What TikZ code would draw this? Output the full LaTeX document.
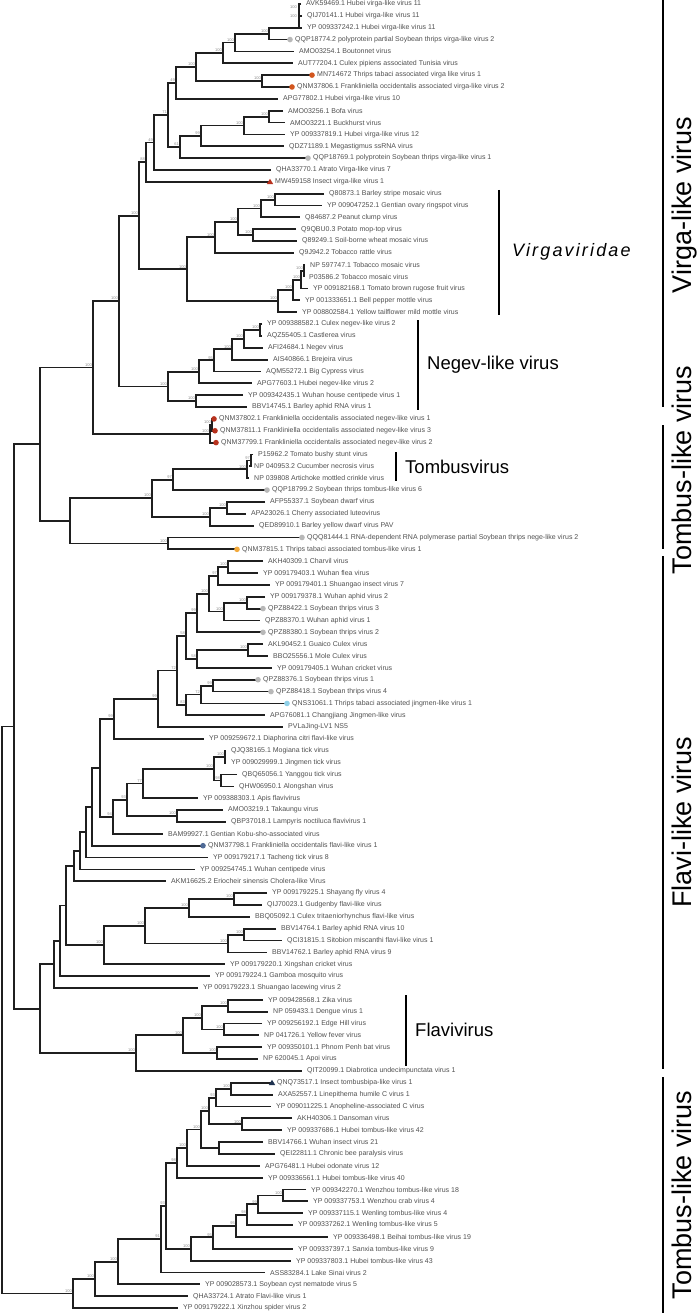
\documentclass[tikz,border=0pt]{standalone}
\usepackage{fontspec}
\setmainfont{Liberation Sans}
\usetikzlibrary{calc}
\definecolor{txt}{HTML}{505050}
\definecolor{bsc}{HTML}{8C8C8C}
\definecolor{dgray}{HTML}{B8B8B8}
\definecolor{dorange}{HTML}{D2561E}
\definecolor{dred}{HTML}{B8321E}
\definecolor{dyellow}{HTML}{F2A93B}
\definecolor{dblue}{HTML}{8FD0E8}
\definecolor{dslate}{HTML}{4F6A96}
\definecolor{dnavy}{HTML}{1E3250}
\newcommand\lf[3]{\coordinate (L#1) at (#2,{4+(#1-1)*11.855});\node[lab] (T#1) at ([xshift=5pt]L#1) {#3};}
\newcommand\nd[5]{\path let \p1=(#3), \p2=(#4) in coordinate (#1) at (#2pt,{(\y1+\y2)/2});\draw[br] (#3) -| (#1) |- (#4);\node[bs] (B#1) at ([xshift=-1pt,yshift=1pt]#1) {#5};}
\newcommand\dotm[2]{\fill[#2] (L#1) circle[radius=2.8pt];}
\newcommand\trim[2]{\fill[#2] ([yshift=3pt]L#1) -- ++(3.2,5.2) -- ++(-6.4,0) -- cycle;}
\begin{document}
\begin{tikzpicture}[x=1pt,y=-1pt,
 br/.style={line width=1.8pt,draw=black!88,line join=miter},
 lab/.style={anchor=west,inner sep=0pt,font=\fontsize{7}{8}\selectfont,text=txt},
 bs/.style={anchor=south east,inner sep=0pt,font=\fontsize{4}{4.5}\selectfont,text=bsc},
 bar/.style={line width=1.8pt,draw=black},
 clab/.style={anchor=west,inner sep=0pt,font=\fontsize{18.5}{20}\selectfont,text=black},
 side/.style={inner sep=0pt,anchor=base,font=\fontsize{27}{30}\selectfont,text=black,rotate=90}]
\useasboundingbox (0,0) rectangle (696,1313);
% leaves
\lf{1}{301}{AVK59469.1 Hubei virga-like virus 11}
\lf{2}{302}{QIJ70141.1 Hubei virga-like virus 11}
\lf{3}{302}{YP 009337242.1 Hubei virga-like virus 11}
\lf{4}{290}{QQP18774.2 polyprotein partial Soybean thrips virga-like virus 2}
\lf{5}{294}{AMO03254.1 Boutonnet virus}
\lf{6}{293}{AUT77204.1 Culex pipiens associated Tunisia virus}
\lf{7}{312}{MN714672 Thrips tabaci associated virga like virus 1}
\lf{8}{292}{QNM37806.1 Frankliniella occidentalis associated virga-like virus 2}
\lf{9}{278}{APG77802.1 Hubei virga-like virus 10}
\lf{10}{283}{AMO03256.1 Bofa virus}
\lf{11}{285}{AMO03221.1 Buckhurst virus}
\lf{12}{285}{YP 009337819.1 Hubei virga-like virus 12}
\lf{13}{284}{QDZ71189.1 Megastigmus ssRNA virus}
\lf{14}{308}{QQP18769.1 polyprotein Soybean thrips virga-like virus 1}
\lf{15}{271}{QHA33770.1 Atrato Virga-like virus 7}
\lf{16}{270}{MW459158 Insect virga-like virus 1}
\lf{17}{324}{Q80873.1 Barley stripe mosaic virus}
\lf{18}{322}{YP 009047252.1 Gentian ovary ringspot virus}
\lf{19}{300}{Q84687.2 Peanut clump virus}
\lf{20}{296}{Q9QBU0.3 Potato mop-top virus}
\lf{21}{297}{Q89249.1 Soil-borne wheat mosaic virus}
\lf{22}{294}{Q9J942.2 Tobacco rattle virus}
\lf{23}{305}{NP 597747.1 Tobacco mosaic virus}
\lf{24}{304}{P03586.2 Tobacco mosaic virus}
\lf{25}{308}{YP 009182168.1 Tomato brown rugose fruit virus}
\lf{26}{300}{YP 001333651.1 Bell pepper mottle virus}
\lf{27}{297}{YP 008802584.1 Yellow tailflower mild mottle virus}
\lf{28}{262}{YP 009388582.1 Culex negev-like virus 2}
\lf{29}{262}{AQZ55405.1 Castlerea virus}
\lf{30}{263}{AFI24684.1 Negev virus}
\lf{31}{268}{AIS40866.1 Brejeira virus}
\lf{32}{261}{AQM55272.1 Big Cypress virus}
\lf{33}{252}{APG77603.1 Hubei negev-like virus 2}
\lf{34}{243}{YP 009342435.1 Wuhan house centipede virus 1}
\lf{35}{247}{BBV14745.1 Barley aphid RNA virus 1}
\lf{36}{214}{QNM37802.1 Frankliniella occidentalis associated negev-like virus 1}
\lf{37}{215}{QNM37811.1 Frankliniella occidentalis associated negev-like virus 3}
\lf{38}{216}{QNM37799.1 Frankliniella occidentalis associated negev-like virus 2}
\lf{39}{253}{P15962.2 Tomato bushy stunt virus}
\lf{40}{249}{NP 040953.2 Cucumber necrosis virus}
\lf{41}{249}{NP 039808 Artichoke mottled crinkle virus}
\lf{42}{267}{QQP18799.2 Soybean thrips tombus-like virus 6}
\lf{43}{265}{AFP55337.1 Soybean dwarf virus}
\lf{44}{246}{APA23026.1 Cherry associated luteovirus}
\lf{45}{254}{QED89910.1 Barley yellow dwarf virus PAV}
\lf{46}{302}{QQQ81444.1 RNA-dependent RNA polymerase partial Soybean thrips nege-like virus 2}
\lf{47}{237}{QNM37815.1 Thrips tabaci associated tombus-like virus 1}
\lf{48}{263}{AKH40309.1 Charvil virus}
\lf{49}{258}{YP 009179403.1 Wuhan flea virus}
\lf{50}{270}{YP 009179401.1 Shuangao insect virus 7}
\lf{51}{265}{YP 009179378.1 Wuhan aphid virus 2}
\lf{52}{263}{QPZ88422.1 Soybean thrips virus 3}
\lf{53}{260}{QPZ88370.1 Wuhan aphid virus 1}
\lf{54}{263}{QPZ88380.1 Soybean thrips virus 2}
\lf{55}{263}{AKL90452.1 Guaico Culex virus}
\lf{56}{268}{BBO25556.1 Mole Culex virus}
\lf{57}{272}{YP 009179405.1 Wuhan cricket virus}
\lf{58}{258}{QPZ88376.1 Soybean thrips virus 1}
\lf{59}{271}{QPZ88418.1 Soybean thrips virus 4}
\lf{60}{287}{QNS31061.1 Thrips tabaci associated jingmen-like virus 1}
\lf{61}{265}{APG76081.1 Changjiang Jingmen-like virus}
\lf{62}{283}{PVLaJing-LV1 NS5}
\lf{63}{204}{YP 009259672.1 Diaphorina citri flavi-like virus}
\lf{64}{226}{QJQ38165.1 Mogiana tick virus}
\lf{65}{226}{YP 009029999.1 Jingmen tick virus}
\lf{66}{237}{QBQ65056.1 Yanggou tick virus}
\lf{67}{234}{QHW06950.1 Alongshan virus}
\lf{68}{198}{YP 009388303.1 Apis flavivirus}
\lf{69}{223}{AMO03219.1 Takaungu virus}
\lf{70}{226}{QBP37018.1 Lampyris noctiluca flavivirus 1}
\lf{71}{163}{BAM99927.1 Gentian Kobu-sho-associated virus}
\lf{72}{203}{QNM37798.1 Frankliniella occidentalis flavi-like virus 1}
\lf{73}{208}{YP 009179217.1 Tacheng tick virus 8}
\lf{74}{195}{YP 009254745.1 Wuhan centipede virus}
\lf{75}{166}{AKM16625.2 Eriocheir sinensis Cholera-like Virus}
\lf{76}{267}{YP 009179225.1 Shayang fly virus 4}
\lf{77}{262}{QIJ70023.1 Gudgenby flavi-like virus}
\lf{78}{250}{BBQ05092.1 Culex tritaeniorhynchus flavi-like virus}
\lf{79}{276}{BBV14764.1 Barley aphid RNA virus 10}
\lf{80}{282}{QCI31815.1 Sitobion miscanthi flavi-like virus 1}
\lf{81}{267}{BBV14762.1 Barley aphid RNA virus 9}
\lf{82}{225}{YP 009179220.1 Xingshan cricket virus}
\lf{83}{210}{YP 009179224.1 Gamboa mosquito virus}
\lf{84}{198}{YP 009179223.1 Shuangao lacewing virus 2}
\lf{85}{263}{YP 009428568.1 Zika virus}
\lf{86}{268}{NP 059433.1 Dengue virus 1}
\lf{87}{262}{YP 009256192.1 Edge Hill virus}
\lf{88}{259}{NP 041726.1 Yellow fever virus}
\lf{89}{262}{YP 009350101.1 Phnom Penh bat virus}
\lf{90}{258}{NP 620045.1 Apoi virus}
\lf{91}{302}{QIT20099.1 Diabrotica undecimpunctata virus 1}
\lf{92}{272}{QNQ73517.1 Insect tombusbipa-like virus 1}
\lf{93}{273}{AXA52557.1 Linepithema humile C virus 1}
\lf{94}{271}{YP 009011225.1 Anopheline-associated C virus}
\lf{95}{292}{AKH40306.1 Dansoman virus}
\lf{96}{282}{YP 009337686.1 Hubei tombus-like virus 42}
\lf{97}{263}{BBV14766.1 Wuhan insect virus 21}
\lf{98}{275}{QEI22811.1 Chronic bee paralysis virus}
\lf{99}{260}{APG76481.1 Hubei odonate virus 12}
\lf{100}{263}{YP 009336561.1 Hubei tombus-like virus 40}
\lf{101}{306}{YP 009342270.1 Wenzhou tombus-like virus 18}
\lf{102}{308}{YP 009337753.1 Wenzhou crab virus 4}
\lf{103}{303}{YP 009337115.1 Wenling tombus-like virus 4}
\lf{104}{293}{YP 009337262.1 Wenling tombus-like virus 5}
\lf{105}{328}{YP 009336498.1 Beihai tombus-like virus 19}
\lf{106}{293}{YP 009337397.1 Sanxia tombus-like virus 9}
\lf{107}{291}{YP 009337803.1 Hubei tombus-like virus 43}
\lf{108}{265}{ASS83284.1 Lake Sinai virus 2}
\lf{109}{200}{YP 009028573.1 Soybean cyst nematode virus 5}
\lf{110}{188}{QHA33724.1 Atrato Flavi-like virus 1}
\lf{111}{178}{YP 009179222.1 Xinzhou spider virus 2}
% virga: top cluster drawn as in the reference
\path let \p1=(L3) in coordinate (a2) at (299pt,\y1);
\draw[br] (L1) -| (a2) -- (L3);
\draw[br] (L2) -- ([xshift=-1pt]L2 -| a2);
\node[bs] (Ba1) at (297,9) {100};
\node[bs] (Ba2) at (297,18) {100};
\nd{a3}{269}{a2}{L4}{100}
\nd{a4}{235}{a3}{L5}{100}
\nd{a5}{223}{a4}{L6}{100}
\nd{a6}{262}{L7}{L8}{100}
\nd{a7}{196}{a5}{a6}{100}
\nd{a8}{176}{a7}{L9}{49}
\nd{b1}{269}{L10}{L11}{100}
\nd{b2}{244}{b1}{L12}{100}
\nd{b3}{201}{b2}{L13}{99}
\nd{b4}{180}{b3}{L14}{61}
\nd{a9}{168}{a8}{b4}{71}
\nd{a10}{154}{a9}{L15}{49}
\nd{a11}{146}{a10}{L16}{88}
\nd{c1}{275}{L17}{L18}{100}
\nd{c2}{261}{c1}{L19}{100}
\nd{c3}{253}{L20}{L21}{100}
\nd{c4}{238}{c2}{c3}{100}
\nd{c5}{215}{c4}{L22}{100}
\nd{c6}{304}{L23}{L24}{100}
\nd{c7}{301}{c6}{L25}{100}
\nd{c8}{293}{c7}{L26}{100}
\nd{c9}{278}{c8}{L27}{100}
\nd{c10}{187}{c5}{c9}{100}
\nd{a12}{139}{a11}{c10}{100}
% negev
\nd{d1}{260}{L28}{L29}{100}
\nd{d2}{244}{d1}{L30}{100}
\nd{d3}{232}{d2}{L31}{100}
\nd{d4}{214}{d3}{L32}{95}
\nd{d5}{199}{d4}{L33}{100}
\nd{d6}{196}{L34}{L35}{100}
\nd{d7}{168}{d5}{d6}{100}
\nd{a13}{119}{a12}{d7}{100}
\nd{e1}{212}{L36}{L37}{100}
\nd{e2}{210}{e1}{L38}{100}
% tombus
\nd{f1}{251}{L39}{L40}{97}
\nd{f2}{247}{f1}{L41}{100}
\nd{f3}{173}{f2}{L42}{97}
\nd{f4}{227}{L43}{L44}{100}
\nd{f5}{210}{f4}{L45}{100}
\nd{f6}{152}{f3}{f5}{100}
\nd{f7}{168}{L46}{L47}{100}
% flavi
\nd{g1}{228}{L48}{L49}{100}
\nd{g2}{218}{g1}{L50}{97}
\nd{g3}{247}{L51}{L52}{100}
\nd{g4}{224}{g3}{L53}{100}
\nd{g5}{209}{g2}{g4}{100}
\nd{g6}{197}{g5}{L54}{99}
\nd{g7}{248}{L55}{L56}{100}
\nd{g8}{197}{g7}{L57}{58}
\nd{g9}{186}{g6}{g8}{58}
\nd{g10}{213}{L58}{L59}{99}
\nd{g11}{201}{g10}{L60}{72}
\nd{g12}{186}{g11}{L61}{83}
\nd{g13}{177}{g9}{g12}{72}
\nd{g14}{158}{g13}{L62}{99}
\nd{g15}{114}{g14}{L63}{99}
\nd{h1}{225}{L64}{L65}{100}
\nd{h2}{221}{L66}{L67}{98}
\nd{h3}{214}{h1}{h2}{100}
\nd{h4}{143}{h3}{L68}{77}
\nd{h5}{177}{L69}{L70}{100}
\nd{h6}{127}{h4}{h5}{93}
\nd{h7}{113}{h6}{L71}{94}
\nd{i1}{234}{L76}{L77}{100}
\nd{i2}{189}{i1}{L78}{100}
\nd{i3}{244}{L79}{L80}{100}
\nd{i4}{228}{i3}{L81}{100}
\nd{i5}{145}{i2}{i4}{100}
\nd{i6}{104}{i5}{L82}{100}
\nd{j1}{228}{L85}{L86}{100}
\nd{j2}{224}{L87}{L88}{100}
\nd{j3}{202}{j1}{j2}{100}
\nd{j4}{217}{L89}{L90}{100}
\nd{j5}{183}{j3}{j4}{100}
\nd{j6}{136}{j5}{L91}{100}
% lower tombus
\nd{k1}{231}{L92}{L93}{100}
\nd{k2}{216}{k1}{L94}{93}
\nd{k3}{242}{L95}{L96}{100}
\nd{k4}{209}{k2}{k3}{100}
\nd{k5}{219}{L97}{L98}{}
\nd{k6}{201}{k4}{k5}{100}
\nd{k7}{187}{k6}{L99}{100}
\nd{k8}{177}{k7}{L100}{98}
\nd{m1}{283}{L101}{L102}{100}
\nd{m2}{258}{m1}{L103}{99}
\nd{m3}{247}{m2}{L104}{98}
\nd{m4}{236}{m3}{L105}{95}
\nd{m5}{213}{m4}{L106}{95}
\nd{m6}{191}{m5}{L107}{100}
\nd{k9}{166}{k8}{m6}{93}
\nd{k10}{161}{k9}{L108}{91}
\nd{k11}{118}{k10}{L109}{100}
\nd{k12}{95}{k11}{L110}{100}
\nd{k13}{73}{k12}{L111}{100}
% backbone
\nd{t1}{93}{a13}{e2}{100}
\nd{t2}{70}{f6}{f7}{}
\nd{t3}{40}{t1}{t2}{}
\nd{u1}{100}{g15}{h7}{}
\nd{u2}{92}{u1}{L72}{}
\nd{u3}{86}{u2}{L73}{}
\nd{u4}{80}{u3}{L74}{}
\nd{u5}{74}{u4}{L75}{}
\nd{u6}{66}{u5}{i6}{}
\nd{u7}{60}{u6}{L83}{}
\nd{u8}{54}{u7}{L84}{}
\nd{u9}{40}{u8}{j6}{}
\nd{t4}{14}{t3}{u9}{}
\nd{root}{2}{t4}{k13}{}
% markers
\dotm{4}{dgray}\dotm{14}{dgray}\dotm{42}{dgray}\dotm{46}{dgray}
\dotm{52}{dgray}\dotm{54}{dgray}\dotm{58}{dgray}\dotm{59}{dgray}
\dotm{7}{dorange}\dotm{8}{dorange}
\dotm{36}{dred}\dotm{37}{dred}\dotm{38}{dred}
\dotm{47}{dyellow}\dotm{60}{dblue}\dotm{72}{dslate}
\trim{16}{dred}\trim{92}{dnavy}
% clade bars
\coordinate (vv1) at (499,190); \coordinate (vv2) at (499,315);
\draw[bar] (vv1) -- (vv2);
\node[clab,font=\fontsize{18}{20}\selectfont\itshape\addfontfeature{LetterSpace=12}] (vvt) at (512,252) {Virgaviridae};
\coordinate (ng1) at (418,320); \coordinate (ng2) at (418,410);
\draw[bar] (ng1) -- (ng2);
\node[clab] (ngt) at (427,365) {Negev-like virus};
\coordinate (tb1) at (396,452); \coordinate (tb2) at (396,481);
\draw[bar] (tb1) -- (tb2);
\node[clab] (tbt) at (405,467) {Tombusvirus};
\coordinate (fv1) at (406,995); \coordinate (fv2) at (406,1066);
\draw[bar] (fv1) -- (fv2);
\node[clab] (fvt) at (415,1030) {Flavivirus};
% side bars
\coordinate (s1a) at (663,0); \coordinate (s1b) at (663,407);
\draw[bar] (s1a) -- (s1b);
\node[side] (s1t) at (691,205) {Virga-like virus};
\coordinate (s2a) at (663,425); \coordinate (s2b) at (663,549);
\draw[bar] (s2a) -- (s2b);
\node[side] (s2t) at (691,470) {Tombus-like virus};
\coordinate (s3a) at (663,556); \coordinate (s3b) at (663,1069);
\draw[bar] (s3a) -- (s3b);
\node[side] (s3t) at (691,822) {Flavi-like virus};
\coordinate (s4a) at (663,1077); \coordinate (s4b) at (663,1313);
\draw[bar] (s4a) -- (s4b);
\node[side] (s4t) at (691,1195) {Tombus-like virus};
\end{tikzpicture}
\end{document}
